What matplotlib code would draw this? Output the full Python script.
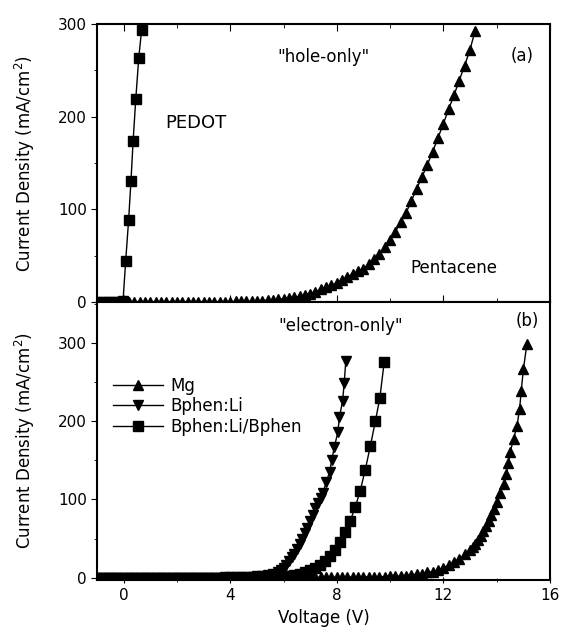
import numpy as np
import matplotlib
matplotlib.use("Agg")
import matplotlib.pyplot as plt
from matplotlib.ticker import MultipleLocator

# (a) hole-only devices
pedot_v = [-1.0, -0.8, -0.6, -0.4, -0.2, -0.03, 0.07, 0.18, 0.27, 0.35, 0.45, 0.56, 0.67]
pedot_j = [0, 0, 0, 0, 0, 0.5, 44, 88, 131, 174, 219, 263, 294]

pent_v = [-1.0, -0.8, -0.6, -0.4, -0.2, 0.0, 0.2, 0.4, 0.6, 0.8, 1.0, 1.2, 1.4, 1.6, 1.8,
          2.0, 2.2, 2.4, 2.6, 2.8, 3.0, 3.2, 3.4, 3.6, 3.8, 4.0, 4.2, 4.4, 4.6, 4.8,
          5.0, 5.2, 5.4, 5.6, 5.8, 6.0, 6.2, 6.4, 6.6, 6.8, 7.0, 7.2, 7.4, 7.6, 7.8,
          8.0, 8.2, 8.4, 8.6, 8.8, 9.0, 9.2, 9.4, 9.6, 9.8, 10.0, 10.2, 10.4, 10.6, 10.8,
          11.0, 11.2, 11.4, 11.6, 11.8, 12.0, 12.2, 12.4, 12.6, 12.8, 13.0, 13.2]
pent_j = [0, 0, 0, 0, 0, 0, 0, 0, 0, 0, 0, 0, 0, 0, 0,
          0.1, 0.1, 0.1, 0.2, 0.2, 0.2, 0.3, 0.3, 0.3, 0.4, 0.4, 0.5, 0.6, 0.8, 1.0,
          1.2, 1.5, 2.0, 2.5, 3.0, 3.5, 4.0, 5.0, 6.0, 7.5, 9.0, 11, 13.5, 16, 18,
          20, 24, 27, 30, 33, 36, 41, 46, 52, 59, 67, 76, 86, 96, 109,
          122, 135, 148, 162, 177, 192, 208, 223, 239, 255, 272, 293]

# (b) electron-only devices
mg_v = [-1.0, -0.8, -0.6, -0.4, -0.2, 0.0, 0.2, 0.4, 0.6, 0.8, 1.0, 1.2, 1.4, 1.6, 1.8,
        2.0, 2.2, 2.4, 2.6, 2.8, 3.0, 3.2, 3.4, 3.6, 3.8, 4.0, 4.2, 4.4, 4.6, 4.8,
        5.0, 5.2, 5.4, 5.6, 5.8, 6.0, 6.2, 6.4, 6.6, 6.8, 7.0, 7.2, 7.4, 7.6, 7.8,
        8.0, 8.2, 8.4, 8.6, 8.8, 9.0, 9.2, 9.4, 9.6, 9.8, 10.0, 10.2, 10.4, 10.6, 10.8,
        11.0, 11.2, 11.4, 11.6, 11.8, 12.0, 12.2, 12.4, 12.6, 12.8, 13.0, 13.1, 13.2, 13.3,
        13.4, 13.5, 13.6, 13.7, 13.8, 13.9, 14.0, 14.14, 14.27, 14.37, 14.45, 14.51,
        14.64, 14.77, 14.87, 14.93, 15.01, 15.14]
mg_j = [0, 0, 0, 0, 0, 0, 0, 0, 0, 0, 0, 0, 0, 0, 0,
        0, 0, 0, 0, 0, 0.1, 0.1, 0.1, 0.1, 0.1, 0.2, 0.2, 0.2, 0.2, 0.3,
        0.3, 0.3, 0.3, 0.4, 0.4, 0.4, 0.5, 0.5, 0.5, 0.6, 0.6, 0.7, 0.7, 0.8, 0.8,
        0.9, 0.9, 1.0, 1.0, 1.1, 1.2, 1.3, 1.4, 1.5, 1.6, 1.8, 2.0, 2.5, 3.0, 4.0,
        4.5, 5.5, 7, 8, 10, 13, 16, 20, 24, 30, 35, 39, 43, 48,
        53, 60, 66, 73, 80, 88, 97, 108, 120, 133, 146, 160,
        177, 194, 216, 239, 266, 298]

li_v = [-1.0, -0.8, -0.6, -0.4, -0.2, 0.0, 0.2, 0.4, 0.6, 0.8, 1.0, 1.2, 1.4, 1.6, 1.8,
        2.0, 2.2, 2.4, 2.6, 2.8, 3.0, 3.2, 3.4, 3.6, 3.8, 4.0, 4.2, 4.4, 4.6, 4.8,
        5.0, 5.2, 5.4, 5.6, 5.8, 5.9, 6.0, 6.1, 6.2, 6.3, 6.4, 6.5, 6.6, 6.7, 6.8,
        6.9, 7.0, 7.1, 7.2, 7.3, 7.4, 7.48, 7.60, 7.73, 7.81, 7.91, 8.04, 8.10, 8.22,
        8.28, 8.34]
li_j = [0, 0, 0, 0, 0, 0, 0, 0, 0, 0, 0, 0, 0, 0, 0,
        0.1, 0.1, 0.1, 0.2, 0.2, 0.2, 0.3, 0.3, 0.4, 0.5, 0.6, 0.7, 0.8, 1.0, 1.5,
        2.0, 2.5, 3.5, 5.0, 8.0, 10, 13, 17, 21, 26, 31, 37, 43, 50, 57,
        64, 72, 80, 89, 96, 102, 108, 122, 135, 150, 167, 186, 205, 226,
        249, 277]

libp_v = [-1.0, -0.81, -0.62, -0.43, -0.24, -0.05, 0.14, 0.33, 0.52, 0.71, 0.9, 1.09,
          1.28, 1.47, 1.66, 1.85, 2.04, 2.23, 2.42, 2.61, 2.8, 2.99, 3.18, 3.37, 3.56,
          3.75, 3.94, 4.13, 4.32, 4.51, 4.7, 4.89, 5.08, 5.27, 5.46, 5.65, 5.84, 6.03,
          6.22, 6.41, 6.6, 6.79, 6.98, 7.17, 7.36, 7.55, 7.74, 7.93, 8.12, 8.31, 8.5,
          8.69, 8.88, 9.07, 9.26, 9.45, 9.62, 9.78]
libp_j = [0, 0, 0, 0, 0, 0, 0, 0, 0, 0, 0, 0,
          0, 0, 0, 0, 0, 0.1, 0.1, 0.1, 0.1, 0.1, 0.2, 0.2, 0.2,
          0.2, 0.3, 0.3, 0.3, 0.4, 0.4, 0.5, 0.6, 0.7, 0.9, 1.1, 1.5, 2.0,
          2.7, 3.6, 5, 7, 10, 13, 17, 22, 28, 36, 46, 58, 72,
          90, 111, 138, 168, 200, 230, 275]

plt.rcParams["font.family"] = "DejaVu Sans"

fig, (ax1, ax2) = plt.subplots(2, 1, sharex=True, figsize=(5.65, 6.33), dpi=100,
                               gridspec_kw=dict(hspace=0))
fig.subplots_adjust(left=0.172, right=0.973, top=0.962, bottom=0.084)

ax1.plot(pedot_v, pedot_j, "-s", color="k", ms=7, lw=1)
ax1.plot(pent_v, pent_j, "-^", color="k", ms=7.5, lw=1)
ax1.set_ylim(0, 300)
ax1.text(7.5, 264, '"hole-only"', ha="center", va="center", fontsize=12)
ax1.text(14.95, 266, "(a)", ha="center", va="center", fontsize=12)
ax1.text(2.7, 193, "PEDOT", ha="center", va="center", fontsize=13)
ax1.text(12.4, 37, "Pentacene", ha="center", va="center", fontsize=12)

ax2.plot(mg_v, mg_j, "-^", color="k", ms=7.5, lw=1, label="Mg")
ax2.plot(li_v, li_j, "-v", color="k", ms=7.5, lw=1, label="Bphen:Li")
ax2.plot(libp_v, libp_j, "-s", color="k", ms=6.5, lw=1, label="Bphen:Li/Bphen")
ax2.set_ylim(-2.5, 352)
ax2.text(8.15, 321, '"electron-only"', ha="center", va="center", fontsize=12)
ax2.text(15.14, 328, "(b)", ha="center", va="center", fontsize=12)
ax2.legend(loc="upper left", bbox_to_anchor=(0.01, 0.773), frameon=False, fontsize=12,
           handlelength=3.0, labelspacing=0.15, handletextpad=0.4, borderaxespad=0.3)

ax2.set_xlim(-1, 16)
ax2.xaxis.set_major_locator(MultipleLocator(4))
ax2.xaxis.set_minor_locator(MultipleLocator(2))
ax2.set_xlabel("Voltage (V)", fontsize=12)

for ax in (ax1, ax2):
    ax.yaxis.set_major_locator(MultipleLocator(100))
    ax.yaxis.set_minor_locator(MultipleLocator(50))
    ax.set_ylabel("Current Density (mA/cm$^2$)", fontsize=12)
    ax.yaxis.set_label_coords(-0.132, 0.5)
    ax.tick_params(axis="y", which="both", direction="out", labelsize=11)
    ax.tick_params(axis="y", which="major", length=4)
    ax.tick_params(axis="y", which="minor", length=2)
    ax.tick_params(axis="x", which="both", direction="in", labelsize=11)
    ax.tick_params(axis="x", which="major", length=5)
    ax.tick_params(axis="x", which="minor", length=3)
    for s in ax.spines.values():
        s.set_linewidth(1.5)

ax1.tick_params(axis="x", which="both", top=True)
ax2.tick_params(axis="x", which="both", direction="inout")

fig.savefig("out.png", dpi=100)
